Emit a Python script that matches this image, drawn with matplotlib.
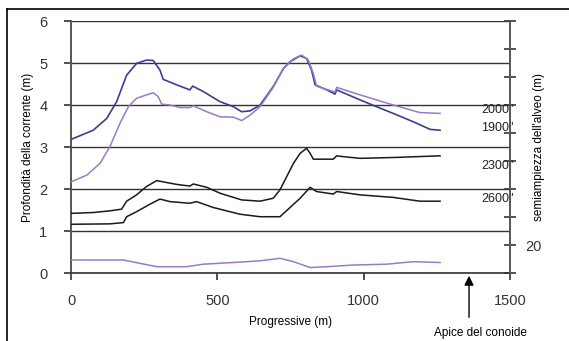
import matplotlib.pyplot as plt
from matplotlib.lines import Line2D

plt.rcParams['font.family'] = ['Liberation Sans', 'DejaVu Sans']

# profile 1900" (dark blue)
x_1900 = [0, 76, 122, 156, 190, 224, 258, 281, 304, 315, 361, 406, 416, 452, 509, 555, 583,
          612, 646, 691, 726, 748, 783, 805, 822, 834, 874, 902, 908, 988, 1044, 1101, 1170,
          1227, 1261]
y_1900 = [3.18, 3.40, 3.68, 4.08, 4.71, 4.99, 5.07, 5.06, 4.83, 4.61, 4.48, 4.36, 4.45, 4.32,
          4.08, 3.96, 3.84, 3.86, 4.00, 4.44, 4.87, 5.03, 5.17, 5.11, 4.83, 4.48, 4.36, 4.26,
          4.36, 4.12, 3.96, 3.80, 3.60, 3.42, 3.40]

# profile 2000" (light purple)
x_2000 = [0, 54, 99, 133, 167, 196, 224, 258, 281, 298, 310, 338, 372, 406, 418, 464, 509,
          555, 583, 612, 646, 691, 726, 760, 788, 811, 828, 839, 874, 902, 908, 988, 1101,
          1192, 1261]
y_2000 = [2.17, 2.33, 2.61, 3.01, 3.56, 3.96, 4.16, 4.24, 4.29, 4.20, 4.02, 4.00, 3.94, 3.94,
          3.98, 3.84, 3.72, 3.71, 3.63, 3.76, 3.96, 4.42, 4.87, 5.10, 5.19, 5.07, 4.75, 4.45,
          4.37, 4.31, 4.42, 4.24, 4.00, 3.82, 3.80]

# profile 2300" (black, upper)
x_2300 = [0, 76, 133, 173, 190, 224, 258, 293, 315, 361, 406, 418, 464, 509, 583, 646, 691,
          714, 760, 783, 805, 817, 828, 896, 908, 931, 988, 1101, 1261]
y_2300 = [1.42, 1.44, 1.48, 1.52, 1.71, 1.86, 2.06, 2.20, 2.17, 2.11, 2.07, 2.12, 2.04, 1.90,
          1.74, 1.71, 1.78, 1.98, 2.61, 2.85, 2.97, 2.85, 2.71, 2.71, 2.79, 2.77, 2.73, 2.75,
          2.79]

# profile 2600" (black, lower)
x_2600 = [0, 133, 179, 190, 224, 270, 304, 338, 406, 429, 486, 577, 646, 714, 783, 817, 839,
          896, 908, 988, 1101, 1192, 1261]
y_2600 = [1.16, 1.17, 1.20, 1.34, 1.46, 1.64, 1.76, 1.70, 1.66, 1.70, 1.56, 1.40, 1.34, 1.34,
          1.78, 2.04, 1.94, 1.88, 1.94, 1.86, 1.80, 1.71, 1.71]

# bottom profile (purple)
x_bed = [0, 179, 236, 293, 395, 452, 555, 646, 714, 760, 817, 874, 965, 1078, 1170, 1261]
y_bed = [0.31, 0.31, 0.23, 0.15, 0.15, 0.21, 0.25, 0.29, 0.35, 0.27, 0.13, 0.15, 0.19, 0.21,
         0.27, 0.25]

labels = ['2000"', '1900"', '2300"', '2600"']
label_y = [3.88, 3.45, 2.55, 1.76]
apex_x = 1360

fig = plt.figure(figsize=(5.69, 3.41), dpi=100)
ax = fig.add_axes([0.1248, 0.1994, 0.7715, 0.739])

dark_blue = '#3b3f8c'
light_purple = '#9b7ac4'
ax.plot(x_1900, y_1900, color=dark_blue, lw=1.2, zorder=3)
ax.plot(x_2000, y_2000, color=light_purple, lw=1.1, zorder=3)
ax.plot(x_2300, y_2300, color='#1a1a1a', lw=1.1, zorder=3)
ax.plot(x_2600, y_2600, color='#1a1a1a', lw=1.1, zorder=3)
ax.plot(x_bed, y_bed, color=light_purple, lw=1.1, zorder=3)

ax.set_xlim(0, 1500)
ax.set_ylim(0, 6)
ax.set_xticks([0, 500, 1000, 1500])
ax.set_yticks(range(7))
ax.grid(axis='y', color='#333333', lw=1.0)
ax.set_axisbelow(True)
for s in ['top', 'right']:
    ax.spines[s].set_visible(False)
ax.spines['left'].set_color('#555555')
ax.spines['left'].set_linewidth(1.4)
ax.spines['bottom'].set_color('#333333')
ax.spines['bottom'].set_linewidth(1.2)
ax.tick_params(axis='both', labelsize=10.5, colors='#333333', length=5, width=1.2)
ax.tick_params(axis='y', pad=12)
ax.tick_params(axis='x', pad=10)
ax.set_xlabel('Progressive (m)', fontsize=8.5, labelpad=6)
ax.set_ylabel('Profondità della corrente (m)', fontsize=8.5, labelpad=4)

# secondary axis on the right
ax2 = ax.twinx()
ax2.set_ylim(0, 180)
ax2.set_yticks(range(0, 181, 20))
ax2.set_yticklabels(['' if v != 20 else '20' for v in range(0, 181, 20)])
ax2.tick_params(axis='y', direction='inout', length=8, width=1.2, colors='#333333',
                labelsize=10.5, pad=7)
for s in ['top', 'left', 'bottom']:
    ax2.spines[s].set_visible(False)
ax2.spines['right'].set_color('#555555')
ax2.spines['right'].set_linewidth(1.4)
ax2.set_ylabel("semiampiezza dell'alveo (m)", fontsize=8.5, labelpad=-6)

for lab, yv in zip(labels, label_y):
    ax.text(1512, yv, lab, ha='right', va='center', fontsize=9, color='#222222')

ax.annotate('', xy=(apex_x, 0), xycoords='data',
            xytext=(apex_x, -1.12), textcoords='data',
            arrowprops=dict(arrowstyle='-|>', color='black', lw=1.0, mutation_scale=14),
            annotation_clip=False)
ax.text(apex_x + 40, -1.42, 'Apice del conoide', ha='center', va='center', fontsize=8.5)

# frame lines of the original picture
fig.add_artist(Line2D([7 / 569, 1], [1 - 9 / 341, 1 - 9 / 341], color='black', lw=1.2))
fig.add_artist(Line2D([7 / 569, 7 / 569], [0, 1 - 9 / 341], color='black', lw=1.2))

fig.savefig('out.png', dpi=100)
